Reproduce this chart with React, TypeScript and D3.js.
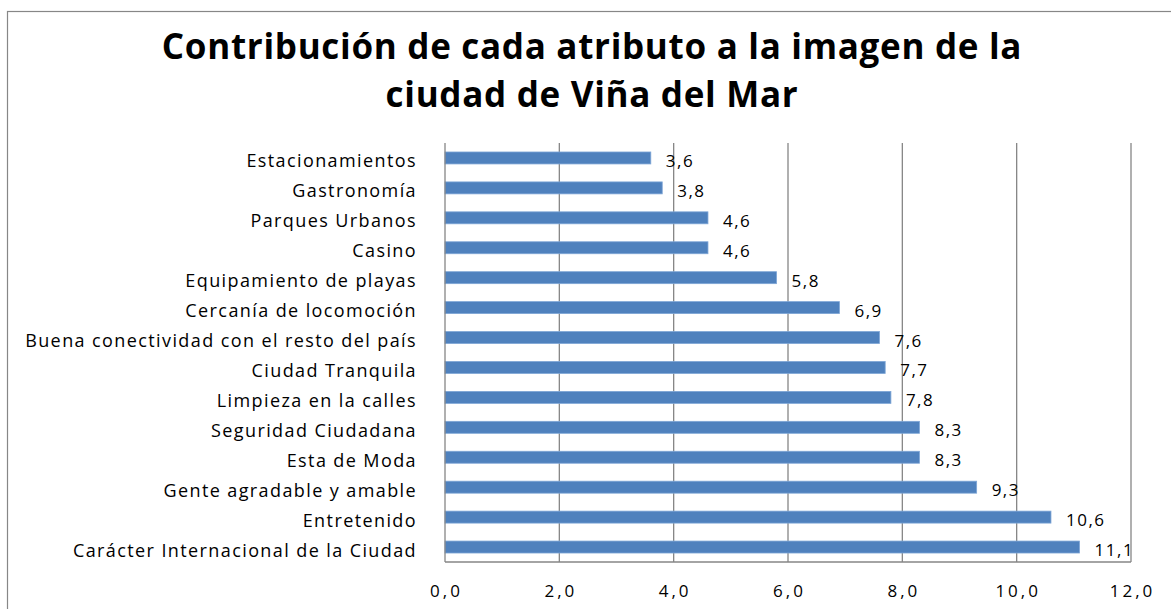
import React from "react";
import { scaleLinear, scaleBand, range } from "d3";

const title = ["Contribución de cada atributo a la imagen de la", "ciudad de Viña del Mar"];

const categories = [
  "Estacionamientos",
  "Gastronomía",
  "Parques Urbanos",
  "Casino",
  "Equipamiento de playas",
  "Cercanía de locomoción",
  "Buena conectividad con el resto del país",
  "Ciudad Tranquila",
  "Limpieza en la calles",
  "Seguridad Ciudadana",
  "Esta de Moda",
  "Gente agradable y amable",
  "Entretenido",
  "Carácter Internacional de la Ciudad",
];

const values = [3.6, 3.8, 4.6, 4.6, 5.8, 6.9, 7.6, 7.7, 7.8, 8.3, 8.3, 9.3, 10.6, 11.1];

const ticks = [0, 2, 4, 6, 8, 10, 12];

const fmt = (v: number) => v.toFixed(1).replace(".", ",");

const App = () => {
  const width = 1171;
  const height = 609;
  const left = 445;
  const right = 1131;
  const top = 143;
  const bottom = 562;

  const xScale = scaleLinear().domain([0, 12]).range([left, right]);
  const yScale = scaleBand().domain(categories).range([top, bottom]).paddingInner(0.6).paddingOuter(0.3);
  const band = scaleBand().domain(categories).range([top, bottom]);

  const font = "'Open Sans', sans-serif";

  return (
    <svg width={width} height={height} style={{ position: "absolute", left: 0, top: 0, background: "#fff" }}>
      <rect x={7.5} y={11.5} width={1200} height={700} fill="#fff" stroke="#878787" strokeWidth={1.2} />

      {title.map((t, i) => (
        <text key={i} x={592} y={59 + i * 48} textAnchor="middle" fontFamily={font} fontWeight="bold"
          fontSize={35} letterSpacing={0.7} fill="#000">{t}</text>
      ))}

      {/* gridlines */}
      {ticks.slice(1).map((t) => (
        <line key={t} x1={xScale(t)} x2={xScale(t)} y1={top} y2={bottom} stroke="#868686" strokeWidth={1.3} />
      ))}

      {/* bars */}
      {categories.map((c, i) => (
        <rect key={c} x={xScale(0)} y={yScale(c)} width={xScale(values[i]) - xScale(0)} height={yScale.bandwidth()}
          fill="#4F81BD" stroke="#7EA6D6" strokeWidth={0.8} />
      ))}

      {/* axes */}
      <line x1={left} x2={left} y1={top} y2={bottom} stroke="#868686" strokeWidth={1.3} />
      <line x1={left} x2={right} y1={bottom} y2={bottom} stroke="#868686" strokeWidth={1.3} />

      {/* category labels */}
      {categories.map((c) => (
        <text key={c} x={417} y={(band(c) as number) + band.bandwidth() / 2 + 9.5} textAnchor="end"
          fontFamily={font} fontSize={18} letterSpacing={1.4} fill="#000">{c}</text>
      ))}

      {/* value labels */}
      {categories.map((c, i) => (
        <text key={c} x={xScale(values[i]) + 15} y={(yScale(c) as number) + yScale.bandwidth() / 2 + 9}
          fontFamily={font} fontSize={17} letterSpacing={1.5} fill="#000">{fmt(values[i])}</text>
      ))}

      {/* tick labels */}
      {range(ticks.length).map((i) => (
        <text key={i} x={xScale(ticks[i]) + 1.5} y={597} textAnchor="middle" fontFamily={font} fontSize={17}
          letterSpacing={3} fill="#000">{fmt(ticks[i])}</text>
      ))}
    </svg>
  );
};

export default App;
